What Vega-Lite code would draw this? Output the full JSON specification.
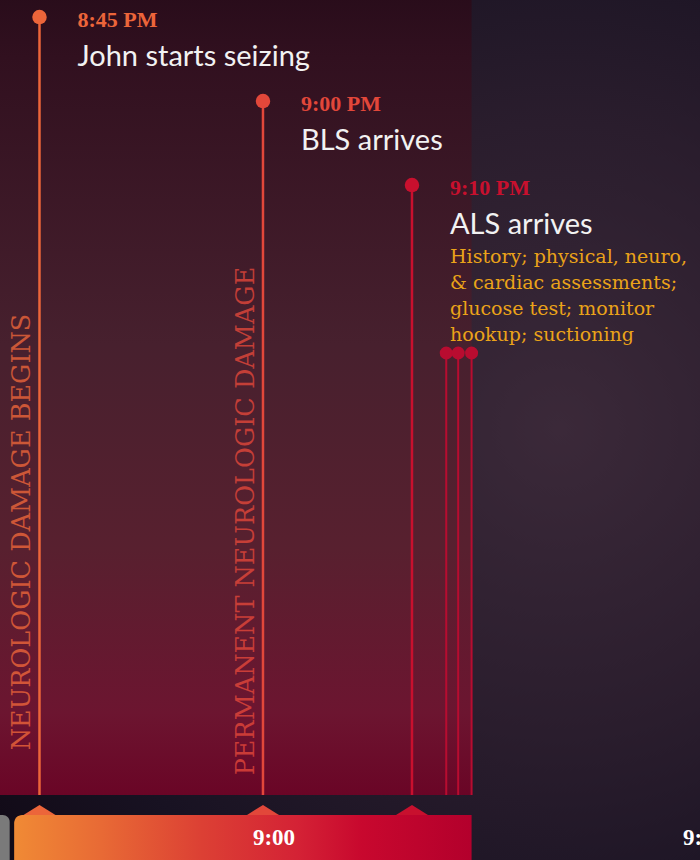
{
  "$schema": "https://vega.github.io/schema/vega-lite/v6.json",
  "width": 700,
  "height": 860,
  "autosize": {"type": "none"},
  "padding": 0,
  "background": "#140b16",
  "config": {"view": {"stroke": null}},
  "datasets": {
    "events": [
      {"event": "8:45", "kind": "main", "t": 45, "row": 1, "time": "8:45 PM", "title": "John starts seizing", "phase": "NEUROLOGIC DAMAGE BEGINS", "base": 10.5},
      {"event": "9:00", "kind": "main", "t": 60, "row": 2, "time": "9:00 PM", "title": "BLS arrives", "phase": "PERMANENT NEUROLOGIC DAMAGE", "base": 10.5},
      {"event": "9:10", "kind": "main", "t": 70, "row": 3, "time": "9:10 PM", "title": "ALS arrives", "info": "History; physical, neuro,\n& cardiac assessments;\nglucose test; monitor\nhookup; suctioning", "base": 10.5},
      {"event": "sub", "kind": "sub", "t": 72.3, "row": 5},
      {"event": "sub", "kind": "sub", "t": 73.1, "row": 5},
      {"event": "sub", "kind": "sub", "t": 74.0, "row": 5}
    ],
    "segments": [
      {"seg": "all", "start": 38, "end": 95, "lo": 0.5, "hi": 11.3},
      {"seg": "panel", "start": 38, "end": 74.0, "lo": 0.5, "hi": 10.262},
      {"seg": "prev", "start": 38, "end": 43.0, "lo": 10.5, "hi": 11.3},
      {"seg": "cur", "start": 43.3, "end": 74.0, "lo": 10.5, "hi": 11.3, "label": "9:00", "mid": 60, "lvl": 10.774},
      {"seg": "next", "label": "9:30", "mid": 90, "lvl": 10.774}
    ]
  },
  "layer": [
    {
      "data": {"name": "segments"},
      "transform": [{"filter": "datum.seg === 'all'"}],
      "mark": {
        "type": "rect", "clip": true,
        "fill": {
          "gradient": "radial",
          "x1": 0.72, "y1": 0.5, "x2": 0.72, "y2": 0.5, "r1": 0, "r2": 0.75,
          "stops": [
            {"offset": 0, "color": "#3b2939"},
            {"offset": 0.45, "color": "#2a1d2d"},
            {"offset": 0.8, "color": "#181222"},
            {"offset": 1, "color": "#120b18"}
          ]
        }
      },
      "encoding": {
        "x": {"field": "start", "type": "quantitative", "scale": {"domain": [42.35, 89.33], "nice": false, "zero": false}, "axis": null},
        "x2": {"field": "end"},
        "y": {"field": "lo", "type": "quantitative", "scale": {"domain": [0.7976, 11.0357], "reverse": true, "nice": false, "zero": false}, "axis": null},
        "y2": {"field": "hi"}
      }
    },
    {
      "data": {"name": "segments"},
      "transform": [{"filter": "datum.seg === 'panel'"}],
      "mark": {
        "type": "rect", "clip": true,
        "fill": {
          "gradient": "linear", "x1": 0, "y1": 0, "x2": 0, "y2": 1,
          "stops": [
            {"offset": 0, "color": "#260b19"},
            {"offset": 0.1, "color": "#31101f"},
            {"offset": 0.45, "color": "#47202e"},
            {"offset": 0.7, "color": "#58202f"},
            {"offset": 0.9, "color": "#6c1530"},
            {"offset": 1, "color": "#6a0526"}
          ]
        }
      },
      "encoding": {
        "x": {"field": "start", "type": "quantitative"},
        "x2": {"field": "end"},
        "y": {"field": "lo", "type": "quantitative"},
        "y2": {"field": "hi"}
      }
    },
    {
      "data": {"name": "events"},
      "transform": [{"filter": "datum.kind === 'main'"}],
      "mark": {"type": "rule", "strokeWidth": 2.5},
      "encoding": {
        "x": {"field": "t", "type": "quantitative"},
        "y": {"field": "row", "type": "quantitative"},
        "y2": {"datum": 10.262},
        "color": {"field": "event", "type": "nominal", "scale": {"domain": ["8:45", "9:00", "9:10", "sub"], "range": ["#ec653a", "#e2473a", "#c8102e", "#b80c30"]}, "legend": null}
      }
    },
    {
      "data": {"name": "events"},
      "transform": [{"filter": "datum.kind === 'sub'"}],
      "mark": {"type": "rule", "strokeWidth": 2},
      "encoding": {
        "x": {"field": "t", "type": "quantitative"},
        "y": {"field": "row", "type": "quantitative"},
        "y2": {"datum": 10.262},
        "color": {"field": "event", "type": "nominal", "legend": null}
      }
    },
    {
      "data": {"name": "events"},
      "transform": [{"filter": "datum.kind === 'main'"}],
      "mark": {"type": "point", "filled": true, "opacity": 1, "shape": "circle", "size": 210},
      "encoding": {
        "x": {"field": "t", "type": "quantitative"},
        "y": {"field": "row", "type": "quantitative"},
        "color": {"field": "event", "type": "nominal", "legend": null}
      }
    },
    {
      "data": {"name": "events"},
      "transform": [{"filter": "datum.kind === 'sub'"}],
      "mark": {"type": "point", "filled": true, "opacity": 1, "shape": "circle", "size": 170},
      "encoding": {
        "x": {"field": "t", "type": "quantitative"},
        "y": {"field": "row", "type": "quantitative"},
        "color": {"field": "event", "type": "nominal", "legend": null}
      }
    },
    {
      "data": {"name": "events"},
      "transform": [{"filter": "isValid(datum.time)"}],
      "mark": {"type": "text", "align": "left", "baseline": "alphabetic", "dx": 38, "dy": 9.5, "font": "Liberation Serif", "fontWeight": "bold", "fontSize": 22},
      "encoding": {
        "x": {"field": "t", "type": "quantitative"},
        "y": {"field": "row", "type": "quantitative"},
        "text": {"field": "time"},
        "color": {"field": "event", "type": "nominal", "legend": null}
      }
    },
    {
      "data": {"name": "events"},
      "transform": [{"filter": "isValid(datum.title)"}],
      "mark": {"type": "text", "align": "left", "baseline": "alphabetic", "dx": 38, "dy": 48.5, "font": "Lato", "fontSize": 29, "color": "#f2f2f2"},
      "encoding": {
        "x": {"field": "t", "type": "quantitative"},
        "y": {"field": "row", "type": "quantitative"},
        "text": {"field": "title"}
      }
    },
    {
      "data": {"name": "events"},
      "transform": [{"filter": "isValid(datum.info)"}],
      "mark": {"type": "text", "align": "left", "baseline": "alphabetic", "dx": 38, "dy": 78, "lineBreak": "\n", "lineHeight": 26, "font": "DejaVu Serif", "fontSize": 19, "color": "#eba319"},
      "encoding": {
        "x": {"field": "t", "type": "quantitative"},
        "y": {"field": "row", "type": "quantitative"},
        "text": {"field": "info"}
      }
    },
    {
      "data": {"name": "events"},
      "transform": [{"filter": "datum.event === '8:45'"}],
      "mark": {"type": "text", "angle": 270, "align": "center", "baseline": "middle", "dx": -515, "dy": -17, "font": "DejaVu Serif", "fontSize": 25.5, "opacity": 0.8},
      "encoding": {
        "x": {"field": "t", "type": "quantitative"},
        "y": {"field": "row", "type": "quantitative"},
        "text": {"field": "phase"},
        "color": {"field": "event", "type": "nominal", "legend": null}
      }
    },
    {
      "data": {"name": "events"},
      "transform": [{"filter": "datum.event === '9:00'"}],
      "mark": {"type": "text", "angle": 270, "align": "center", "baseline": "middle", "dx": -420, "dy": -17, "font": "DejaVu Serif", "fontSize": 25.5, "opacity": 0.8},
      "encoding": {
        "x": {"field": "t", "type": "quantitative"},
        "y": {"field": "row", "type": "quantitative"},
        "text": {"field": "phase"},
        "color": {"field": "event", "type": "nominal", "legend": null}
      }
    },
    {
      "data": {"name": "events"},
      "transform": [{"filter": "datum.kind === 'main'"}],
      "mark": {"type": "point", "filled": true, "opacity": 1, "shape": "M-1,0L0,-0.625L1,0Z", "size": 1024},
      "encoding": {
        "x": {"field": "t", "type": "quantitative"},
        "y": {"field": "base", "type": "quantitative"},
        "color": {"field": "event", "type": "nominal", "legend": null}
      }
    },
    {
      "data": {"name": "segments"},
      "transform": [{"filter": "datum.seg === 'prev'"}],
      "mark": {"type": "rect", "clip": true, "color": "#7a7a7a", "cornerRadiusTopRight": 7},
      "encoding": {
        "x": {"field": "start", "type": "quantitative"},
        "x2": {"field": "end"},
        "y": {"field": "lo", "type": "quantitative"},
        "y2": {"field": "hi"}
      }
    },
    {
      "data": {"name": "segments"},
      "transform": [{"filter": "datum.seg === 'cur'"}],
      "mark": {
        "type": "rect", "clip": true, "cornerRadiusTopLeft": 8,
        "fill": {
          "gradient": "linear", "x1": 0, "y1": 0, "x2": 1, "y2": 0,
          "stops": [
            {"offset": 0, "color": "#f08a35"},
            {"offset": 0.19, "color": "#e86a35"},
            {"offset": 0.41, "color": "#dc4034"},
            {"offset": 0.62, "color": "#d42235"},
            {"offset": 0.76, "color": "#c8082e"},
            {"offset": 1, "color": "#b3002c"}
          ]
        }
      },
      "encoding": {
        "x": {"field": "start", "type": "quantitative"},
        "x2": {"field": "end"},
        "y": {"field": "lo", "type": "quantitative"},
        "y2": {"field": "hi"}
      }
    },
    {
      "data": {"name": "segments"},
      "transform": [{"filter": "datum.seg === 'cur'"}],
      "mark": {"type": "text", "align": "center", "baseline": "middle", "dx": 11, "font": "Liberation Serif", "fontWeight": "bold", "fontSize": 23, "color": "#ffffff"},
      "encoding": {
        "x": {"field": "mid", "type": "quantitative"},
        "y": {"field": "lvl", "type": "quantitative"},
        "text": {"field": "label"}
      }
    },
    {
      "data": {"name": "segments"},
      "transform": [{"filter": "datum.seg === 'next'"}],
      "mark": {"type": "text", "align": "center", "baseline": "middle", "dx": -6, "font": "Liberation Serif", "fontWeight": "bold", "fontSize": 23, "color": "#ffffff"},
      "encoding": {
        "x": {"field": "mid", "type": "quantitative"},
        "y": {"field": "lvl", "type": "quantitative"},
        "text": {"field": "label"}
      }
    }
  ]
}
